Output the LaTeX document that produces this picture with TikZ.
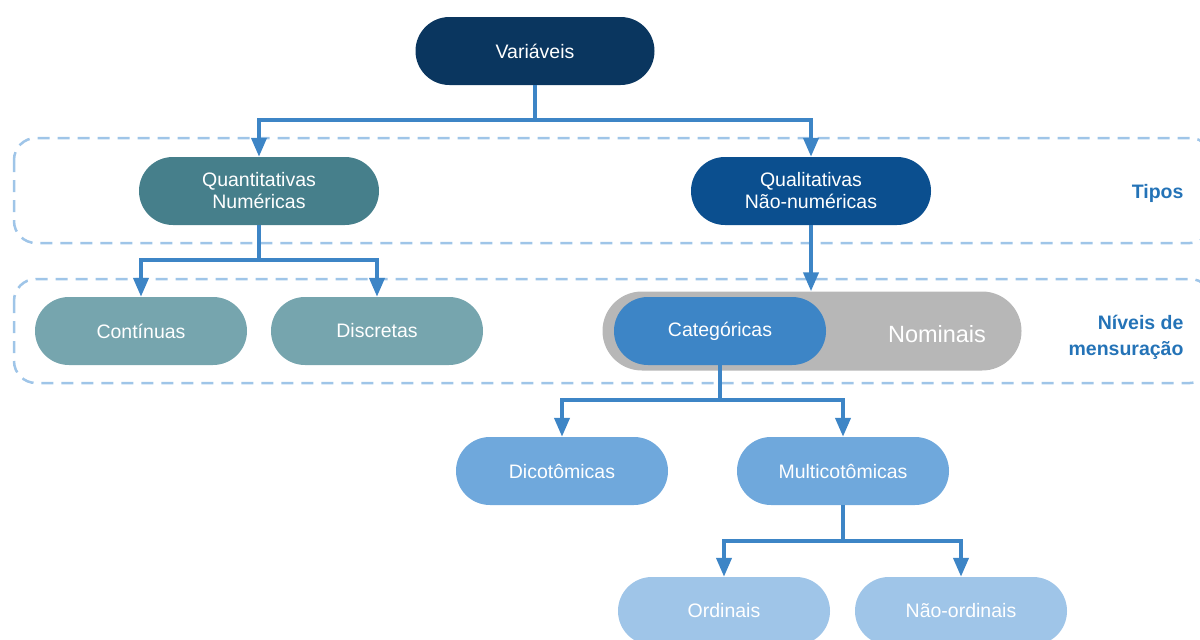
\documentclass[tikz,border=0pt]{standalone}
\usepackage{fontspec}
\setmainfont{Liberation Sans}
\usetikzlibrary{arrows.meta}

\definecolor{navy}{HTML}{0A365F}
\definecolor{teal}{HTML}{467F8B}
\definecolor{qualblue}{HTML}{0B4F8F}
\definecolor{lightteal}{HTML}{76A5AE}
\definecolor{catblue}{HTML}{3D85C6}
\definecolor{pillgray}{HTML}{B7B7B7}
\definecolor{midblue}{HTML}{6FA8DC}
\definecolor{paleblue}{HTML}{9FC5E8}
\definecolor{lblblue}{HTML}{2473B7}

\tikzset{
  pill/.style={rectangle, rounded corners=33.9pt, minimum width=212pt,
    minimum height=68pt, inner sep=0pt, text=white, align=center,
    font=\fontsize{19.5}{22}\selectfont},
  link/.style={draw=catblue, line width=4pt,
    -{Triangle[width=15pt,length=19pt]}},
  dashbox/.style={draw=paleblue, line width=2.5pt,
    dash pattern=on 12pt off 8pt, rounded corners=22pt},
  lbl/.style={text=lblblue, font=\bfseries\fontsize{19.5}{26}\selectfont,
    anchor=east, align=right}
}

\begin{document}
\begin{tikzpicture}[x=1pt,y=-1pt]
    \useasboundingbox (0,0) rectangle (1200,640);
    % level boxes
    \draw[dashbox] (14,138) rectangle (1212,243);
    \draw[dashbox] (14,279) rectangle (1212,383);
    \node[lbl] (tipos) at (1187,193) {Tipos};
    \node[lbl] (niveis) at (1187,337) {Níveis de\\mensuração};

    \node[pill, fill=navy, minimum width=239pt] (var) at (535,51) {Variáveis};
    \node[pill, fill=teal, minimum width=240pt] (quant) at (259,191) {Quantitativas\\Numéricas};
    \node[pill, fill=qualblue, minimum width=240pt] (qual) at (811,191) {Qualitativas\\Não-numéricas};
    \node[pill, fill=lightteal] (cont) at (141,331) {Contínuas};
    \node[pill, fill=lightteal] (disc) at (377,331) {Discretas};
    \node[pill, fill=pillgray, minimum width=419pt, minimum height=79pt,
      rounded corners=39.4pt] (nom) at (812,331) {};
    \node[text=white, font=\fontsize{23.5}{26}\selectfont] (nomtxt) at (937,334) {Nominais};
    \node[pill, fill=catblue] (cat) at (720,331) {Categóricas};
    \node[pill, fill=midblue] (dico) at (562,471) {Dicotômicas};
    \node[pill, fill=midblue] (multi) at (843,471) {Multicotômicas};
    \node[pill, fill=paleblue] (ord) at (724,611) {Ordinais};
    \node[pill, fill=paleblue] (nord) at (961,611) {Não-ordinais};

    % connectors
    \draw[link] (var.south) -- ++(0,35) -| (quant.north);
    \draw[link] (var.south) -- ++(0,35) -| (qual.north);
    \draw[link] (quant.south) -- ++(0,35) -| (cont.north);
    \draw[link] (quant.south) -- ++(0,35) -| (disc.north);
    \draw[link] (qual.south) -- (qual.south |- nom.north);
    \draw[link] (cat.south) -- ++(0,35) -| (dico.north);
    \draw[link] (cat.south) -- ++(0,35) -| (multi.north);
    \draw[link] (multi.south) -- ++(0,36) -| (ord.north);
    \draw[link] (multi.south) -- ++(0,36) -| (nord.north);
\end{tikzpicture}
\end{document}
